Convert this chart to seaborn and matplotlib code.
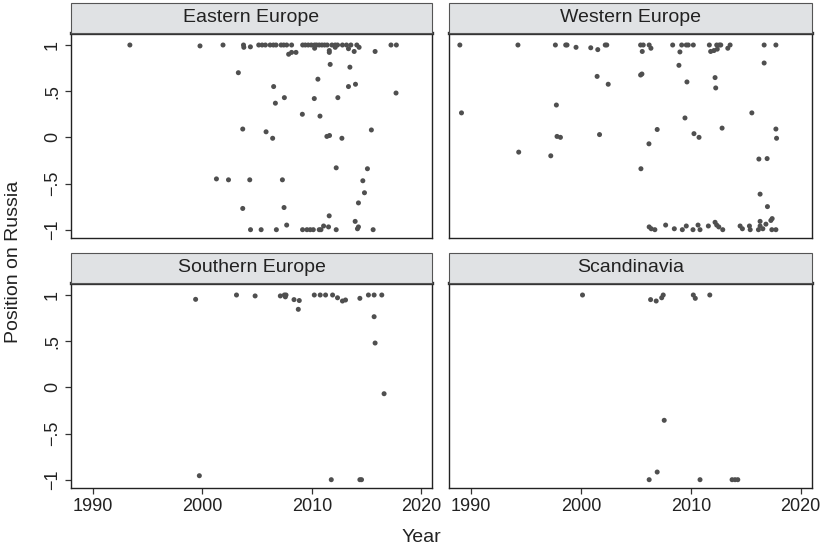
import matplotlib
matplotlib.use("Agg")
import matplotlib.pyplot as plt
from matplotlib import font_manager
import numpy as np
import pandas as pd
import seaborn as sns
from matplotlib.patches import Rectangle

regions = ["Eastern Europe", "Western Europe", "Southern Europe", "Scandinavia"]

east_year = [1993.4, 1999.8, 2001.9, 2003.3, 2001.3, 2002.4,
             2003.77, 2003.8, 2004.4, 2005.16, 2005.47, 2005.77, 2006.2, 2006.5, 2006.74, 2007.2, 2007.44, 2007.71, 2008.16, 2007.89, 2008.16, 2008.56,
             2009.17, 2009.41, 2009.68, 2009.96, 2010.26, 2010.26, 2010.44, 2010.68, 2010.93, 2011.17, 2011.41, 2011.6, 2011.6, 2011.84, 2012.14, 2012.14, 2012.35, 2012.8, 2013.17, 2013.35, 2013.57, 2013.87, 2014.11, 2014.32, 2015.78, 2017.23, 2017.72,
             2011.68, 2013.48, 2010.56, 2006.52, 2013.35, 2013.99, 2017.69, 2006.68, 2007.5, 2010.23, 2012.38, 2009.14, 2010.75,
             2003.7, 2005.83, 2006.43, 2011.38, 2011.62, 2012.75, 2015.44, 2012.23, 2015.08, 2004.34, 2007.32, 2014.66, 2014.81, 2014.26, 2003.7, 2007.47, 2011.59, 2013.96, 2007.71, 2011.08, 2011.53, 2014.26, 2014.17,
             2004.41, 2005.38, 2006.77, 2009.16, 2009.56, 2009.86, 2010.14, 2010.68, 2010.84, 2012.23, 2015.6]
east_pos = [1.0, 0.99, 1.0, 0.70, -0.45, -0.46,
            1.0, 0.975, 0.98, 1.0, 1.0, 1.0, 1.0, 1.0, 1.0, 1.0, 1.0, 1.0, 1.0, 0.90, 0.92, 0.92,
            1.0, 1.0, 1.0, 1.0, 1.0, 0.965, 1.0, 1.0, 1.0, 1.0, 1.0, 0.94, 0.92, 1.0, 1.0, 0.975, 1.0, 1.0, 1.0, 0.96, 1.0, 0.93, 1.0, 0.975, 0.93, 1.0, 1.0,
            0.79, 0.76, 0.63, 0.55, 0.55, 0.575, 0.48, 0.37, 0.43, 0.42, 0.43, 0.25, 0.23,
            0.09, 0.06, -0.01, 0.01, 0.02, -0.01, 0.08, -0.33, -0.34, -0.46, -0.46, -0.47, -0.60, -0.71, -0.77, -0.76, -0.85, -0.91, -0.95, -0.96, -0.97, -0.97, -0.99,
            -1.0, -1.0, -1.0, -1.0, -1.0, -1.0, -1.0, -1.0, -1.0, -1.0, -1.0]

west_year = [1988.96, 1994.25, 1997.66, 1998.6, 1998.72, 1999.54, 2000.88, 2001.52, 2002.2, 2002.34,
             2001.46, 2002.47, 1997.75, 1989.11, 1997.81, 1998.12, 2001.68, 1994.32, 1997.24,
             2005.42, 2005.66, 2006.2, 2006.36, 2005.57, 2008.34, 2009.16, 2009.58, 2009.76, 2010.22, 2009.0, 2011.68, 2012.35, 2012.59, 2012.72, 2011.8, 2012.1, 2012.4, 2013.36, 2013.57, 2016.67, 2017.74,
             2016.67, 2008.91, 2005.42, 2005.54, 2009.64, 2012.2, 2012.26, 2015.55, 2009.46, 2006.93, 2012.84, 2017.74, 2010.28, 2010.74, 2017.8, 2006.18, 2016.19, 2016.94, 2005.45,
             2016.3, 2016.97, 2017.4, 2017.28, 2016.83, 2016.3,
             2006.2, 2006.39, 2006.72, 2007.7, 2008.49, 2009.22, 2009.58, 2010.19, 2010.65, 2010.83, 2011.59, 2012.2, 2012.35, 2012.54, 2012.9, 2014.48, 2014.69, 2015.33, 2015.4, 2016.15, 2016.3, 2016.55, 2017.37, 2017.74]
west_pos = [1.0, 1.0, 1.0, 1.0, 1.0, 0.975, 0.97, 0.95, 1.0, 1.0,
            0.66, 0.575, 0.35, 0.265, 0.01, 0.0, 0.03, -0.16, -0.2,
            1.0, 1.0, 1.0, 0.965, 0.93, 1.0, 1.0, 1.0, 1.0, 1.0, 0.925, 1.0, 1.0, 1.0, 1.0, 0.93, 0.94, 0.955, 0.965, 1.0, 1.0, 1.0,
            0.805, 0.78, 0.675, 0.686, 0.6, 0.647, 0.535, 0.265, 0.21, 0.085, 0.1, 0.09, 0.04, 0.0, -0.01, -0.07, -0.235, -0.23, -0.34,
            -0.615, -0.75, -0.88, -0.9, -0.94, -0.91,
            -0.97, -0.99, -1.0, -0.95, -0.99, -1.0, -0.96, -1.0, -0.95, -1.0, -0.96, -0.92, -0.95, -0.97, -1.0, -0.96, -0.99, -0.96, -1.0, -1.0, -0.96, -0.99, -1.0, -1.0]

south_year = [1999.40, 1999.74, 2003.13, 2004.83, 2007.13, 2007.5, 2007.59, 2007.65, 2008.38, 2008.86, 2008.77,
              2010.23, 2010.77, 2011.26, 2011.9, 2012.35, 2012.8, 2013.08, 2011.78, 2014.39, 2014.39, 2014.54,
              2015.17, 2015.69, 2016.39, 2015.69, 2015.78, 2016.6]
south_pos = [0.953, -0.957, 1.0, 0.99, 0.99, 1.0, 0.98, 1.0, 0.95, 0.94, 0.845,
             1.0, 1.0, 1.0, 1.0, 0.97, 0.935, 0.946, -1.0, 0.964, -1.0, -1.0,
             1.0, 1.0, 1.0, 0.765, 0.48, -0.069]

scan_year = [2000.13, 2006.33, 2006.84, 2007.34, 2007.48, 2010.22, 2010.4, 2011.72,
             2007.57, 2006.93, 2006.2, 2010.83, 2013.75, 2014.02, 2014.27]
scan_pos = [1.0, 0.95, 0.935, 0.97, 1.0, 1.0, 0.964, 1.0,
            -0.357, -0.917, -1.0, -1.0, -1.0, -1.0, -1.0]

x_ticks = [1990, 2000, 2010, 2020]
y_ticks = [-1, -0.5, 0, 0.5, 1]
y_tick_labels = ["\u22121", "\u2212.5", "0", ".5", "1"]

frames = []
for reg, yr, ps in zip(regions, [east_year, west_year, south_year, scan_year],
                       [east_pos, west_pos, south_pos, scan_pos]):
    frames.append(pd.DataFrame({"region": reg, "year": yr, "pos": ps}))
df = pd.concat(frames, ignore_index=True)

sns.set_theme(style="white")
installed = {f.name for f in font_manager.fontManager.ttflist}
if "Liberation Sans Narrow" in installed:
    plt.rcParams["font.family"] = ["Liberation Sans Narrow", "DejaVu Sans"]
    fs_big, fs_tick = 16, 15
else:
    plt.rcParams["font.family"] = ["Liberation Sans", "DejaVu Sans"]
    fs_big, fs_tick = 14, 13

g = sns.FacetGrid(df, col="region", col_order=regions, col_wrap=2,
                  sharex=False, sharey=False, height=2.5, aspect=1.4)
g.map_dataframe(sns.scatterplot, x="year", y="pos", color="#4f4f4f",
                s=13, edgecolor="none", linewidth=0)
fig = g.figure
fig.set_size_inches(8.23, 5.51)
fig.patch.set_facecolor("white")

W, H = 823.0, 551.0
lefts = [70.7, 449.3, 70.7, 449.3]
rights = [432.3, 811.7, 432.3, 811.7]
tops = [33.0, 33.0, 283.0, 283.0]
bottoms = [238.0, 238.0, 488.0, 488.0]
strip_h = 30.0

axes = g.axes.flatten()
for i, ax in enumerate(axes):
    ax.set_position([lefts[i] / W, 1 - bottoms[i] / H,
                     (rights[i] - lefts[i]) / W, (bottoms[i] - tops[i]) / H])
    ax.set_xlim(1988.0, 2021.0)
    ax.set_ylim(-1.09, 1.13)
    ax.set_title("")
    ax.set_xlabel("")
    ax.set_ylabel("")
    ax.set_facecolor("white")
    ax.set_xticks(x_ticks)
    ax.set_yticks(y_ticks)
    for side in ["left", "right", "bottom", "top"]:
        ax.spines[side].set_visible(True)
        ax.spines[side].set_color("#222222")
        ax.spines[side].set_linewidth(1.0)
    ax.spines["top"].set_linewidth(2.4)
    ax.spines["top"].set_color("#333333")
    ax.tick_params(direction="out", length=4, width=0.9, color="#333333",
                   labelsize=fs_tick, labelcolor="#222222", pad=3)
    if i in (0, 2):
        ax.set_yticklabels(y_tick_labels, rotation=90, va="center")
        ax.tick_params(axis="y", left=True, labelleft=True)
    else:
        ax.tick_params(axis="y", left=False, labelleft=False)
    if i in (2, 3):
        ax.set_xticklabels([str(t) for t in x_ticks])
        ax.tick_params(axis="x", bottom=True, labelbottom=True)
    else:
        ax.tick_params(axis="x", bottom=False, labelbottom=False)

    # strip header
    x0 = lefts[i] / W
    w = (rights[i] - lefts[i]) / W
    y0 = 1 - tops[i] / H
    hh = strip_h / H
    rect = Rectangle((x0, y0), w, hh, transform=fig.transFigure,
                     facecolor="#e0e2e4", edgecolor="#555555", linewidth=0.8,
                     zorder=0)
    fig.patches.append(rect)
    fig.text(x0 + w / 2, y0 + hh / 2, regions[i], ha="center", va="center",
             fontsize=fs_big, color="#222222")

fig.text(14 / W, 1 - 262 / H, "Position on Russia", rotation=90,
         ha="center", va="center", fontsize=fs_big, color="#222222")
fig.text(421 / W, 1 - 538 / H, "Year", ha="center", va="center",
         fontsize=fs_big, color="#222222")

fig.savefig("out.png", dpi=100)
